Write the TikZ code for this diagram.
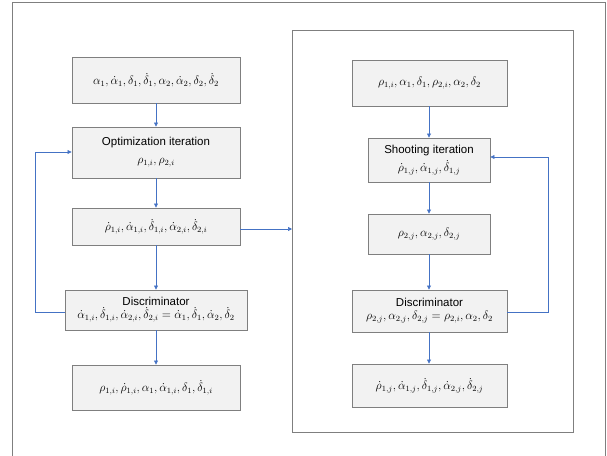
\documentclass[tikz,border=0pt]{standalone}
\usepackage{fontspec}
\setmainfont{Liberation Sans}
\usetikzlibrary{arrows.meta}
\definecolor{boxfill}{HTML}{F2F2F2}
\definecolor{boxline}{HTML}{7F7F7F}
\definecolor{arr}{HTML}{4472C4}
\tikzset{
  blk/.style={draw=boxline, fill=boxfill, line width=0.9pt, inner sep=0pt, align=center, font=\fontsize{11.5}{13}\selectfont},
  conn/.style={draw=arr, line width=0.7pt, -{Triangle[length=4pt,width=4pt]}},
  frame/.style={draw=boxline, line width=0.9pt}
}
\begin{document}
\begin{tikzpicture}[x=1pt,y=-1pt]
\useasboundingbox (0,0) rectangle (607,455);
\draw[frame] (12,456) -- (12,2) -- (605,2) -- (605,456);
\draw[frame] (292,30) rectangle (573,432);
% left column
\node[blk, minimum width=168pt, minimum height=46pt] (a1) at (156,80) {$\alpha_1,\dot\alpha_1,\delta_1,\dot\delta_1,\alpha_2,\dot\alpha_2,\delta_2,\dot\delta_2$};
\node[blk, minimum width=168pt, minimum height=51pt] (a2) at (156,152.5) {Optimization iteration\\[5pt] $\rho_{1,i},\rho_{2,i}$};
\node[blk, minimum width=168pt, minimum height=37pt] (a3) at (156,226.5) {$\dot\rho_{1,i},\dot\alpha_{1,i},\dot\delta_{1,i},\dot\alpha_{2,i},\dot\delta_{2,i}$};
\node[blk, minimum width=182pt, minimum height=40pt] (a4) at (156,310) {Discriminator\\ $\dot\alpha_{1,i},\dot\delta_{1,i},\dot\alpha_{2,i},\dot\delta_{2,i}=\dot\alpha_1,\dot\delta_1,\dot\alpha_2,\dot\delta_2$};
\node[blk, minimum width=168pt, minimum height=45pt] (a5) at (156,387.5) {$\rho_{1,i},\dot\rho_{1,i},\alpha_1,\dot\alpha_{1,i},\delta_1,\dot\delta_{1,i}$};
% right column
\node[blk, minimum width=155pt, minimum height=46pt] (b1) at (429.5,83) {$\rho_{1,i},\alpha_1,\delta_1,\rho_{2,i},\alpha_2,\delta_2$};
\node[blk, minimum width=122pt, minimum height=44pt] (b2) at (429,160) {Shooting iteration\\[3pt] $\dot\rho_{1,j},\dot\alpha_{1,j},\dot\delta_{1,j}$};
\node[blk, minimum width=122pt, minimum height=40pt] (b3) at (429,234) {$\rho_{2,j},\alpha_{2,j},\delta_{2,j}$};
\node[blk, minimum width=155pt, minimum height=42pt] (b4) at (429.5,311) {Discriminator\\ $\rho_{2,j},\alpha_{2,j},\delta_{2,j}=\rho_{2,i},\alpha_2,\delta_2$};
\node[blk, minimum width=155pt, minimum height=43pt] (b5) at (429.5,385.5) {$\dot\rho_{1,j},\dot\alpha_{1,j},\dot\delta_{1,j},\dot\alpha_{2,j},\dot\delta_{2,j}$};
\coordinate (inL) at (292,229);
\coordinate (lp1) at (35,312);
\coordinate (lp2) at (35,152);
\coordinate (rp1) at (548,312);
\coordinate (rp2) at (548,157);
% connectors
\draw[conn] (a1) -- (a2);
\draw[conn] (a2) -- (a3);
\draw[conn] (a3) -- (a4);
\draw[conn] (a4) -- (a5);
\draw[conn] (a4.west |- lp1) -- (lp1) -- (lp2) -- (a2.west |- lp2);
\draw[conn] (a3.east |- inL) -- (inL);
\draw[conn] (b1.south -| b2) -- (b2);
\draw[conn] (b2) -- (b3);
\draw[conn] (b3) -- (b4.north -| b3);
\draw[conn] (b4.south -| b3) -- (b5.north -| b3);
\draw[conn] (b4.east |- rp1) -- (rp1) -- (rp2) -- (b2.east |- rp2);
\end{tikzpicture}
\end{document}
